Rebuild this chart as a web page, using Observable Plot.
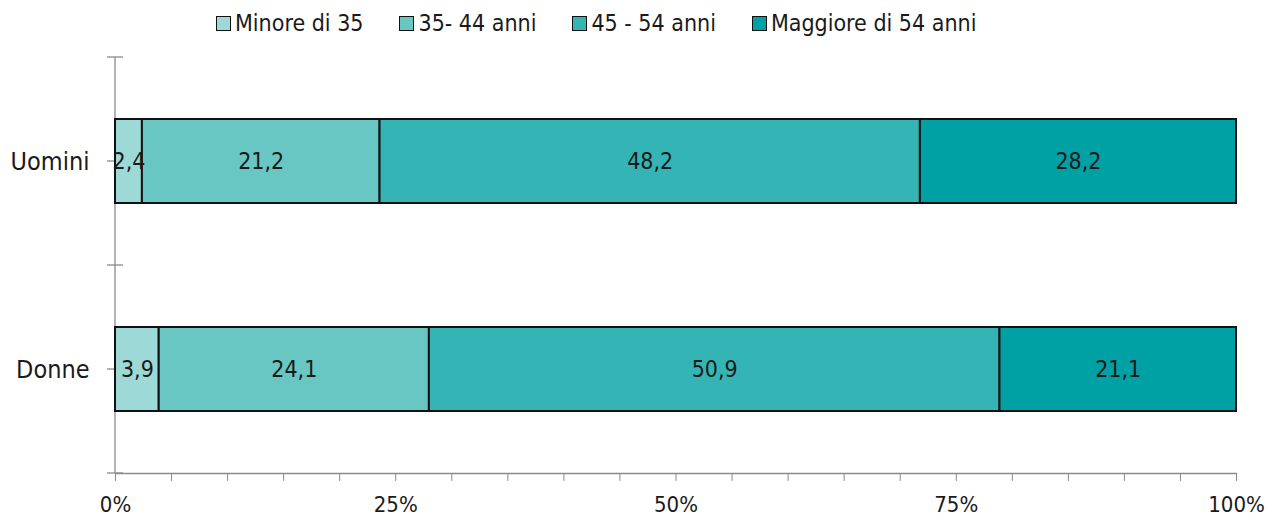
<!DOCTYPE html>
<html>
<head>
<meta charset="utf-8">
<script src="https://cdn.jsdelivr.net/npm/d3@7"></script>
<script src="https://cdn.jsdelivr.net/npm/@observablehq/plot@0.6"></script>
<style>
  html, body { margin: 0; padding: 0; background: #fff; }
  body { width: 1266px; height: 521px; position: relative; overflow: hidden;
         font-family: "Liberation Sans Narrow", "DejaVu Sans Condensed", "Open Sans", sans-serif; }
  #legend { position: absolute; left: 216px; top: 10px; display: flex; gap: 36px; font-size: 23px; color: #1a1a1a; z-index: 2; white-space: nowrap; }
  #legend .item { display: flex; align-items: center; }
  #legend .sw { width: 13px; height: 13px; border: 1.5px solid #111; margin-right: 4px; box-sizing: content-box; }
  #chart { position: absolute; left: 0; top: 0; z-index: 1; }
</style>
</head>
<body>
<div id="legend"></div>
<div id="chart"></div>
<script>
// ---- data ----
const groups = ["Uomini", "Donne"];
const ageClasses = ["Minore di 35", "35- 44 anni", "45 - 54 anni", "Maggiore di 54 anni"];
const uominiValues = [2.4, 21.2, 48.2, 28.2];
const donneValues = [3.9, 24.1, 50.9, 21.1];
const colors = ["#9dd9d6", "#68c7c2", "#35b4b6", "#00a1a4"];
const xTicks = [0, 5, 10, 15, 20, 25, 30, 35, 40, 45, 50, 55, 60, 65, 70, 75, 80, 85, 90, 95, 100];
const xTickLabels = {0: "0%", 25: "25%", 50: "50%", 75: "75%", 100: "100%"};

const rows = [];
[uominiValues, donneValues].forEach((vals, gi) => {
  vals.forEach((v, ai) => rows.push({group: groups[gi], age: ageClasses[ai], value: v}));
});

const axisColor = "#8a8a8a";
const fmt = v => v.toFixed(1).replace(".", ",");

// legend
const legend = d3.select("#legend");
ageClasses.forEach((a, i) => {
  const it = legend.append("div").attr("class", "item");
  it.append("div").attr("class", "sw").style("background", colors[i]);
  it.append("span").text(a);
});

function yAxisTicks(index, scales, values, dims) {
  const y = scales.y;
  const bw = y.bandwidth ? y.bandwidth() : 0;
  const x0 = scales.x(0);
  const centers = groups.map(g => y(g) + bw / 2);
  const bounds = [dims.marginTop, (centers[0] + centers[1]) / 2, dims.height - dims.marginBottom];
  const g = d3.create("svg:g").attr("stroke", axisColor).attr("stroke-width", 1.3);
  g.append("line").attr("x1", x0).attr("x2", x0).attr("y1", dims.marginTop).attr("y2", dims.height - dims.marginBottom);
  bounds.forEach(b => g.append("line").attr("x1", x0 - 8).attr("x2", x0 + 8).attr("y1", b).attr("y2", b));
  centers.forEach(c => g.append("line").attr("x1", x0 - 8).attr("x2", x0 + 4).attr("y1", c).attr("y2", c));
  return g.node();
}

const plot = Plot.plot({
  width: 1266,
  height: 521,
  marginLeft: 115,
  marginRight: 30,
  marginTop: 57,
  marginBottom: 48,
  style: {fontFamily: "'Liberation Sans Narrow', 'DejaVu Sans Condensed', 'Open Sans', sans-serif", background: "transparent", color: "#1a1a1a"},
  x: {domain: [0, 100]},
  y: {domain: groups, paddingInner: 0.596, paddingOuter: 0.298},
  color: {domain: ageClasses, range: colors},
  marks: [
    yAxisTicks,
    Plot.axisX({ticks: xTicks, tickSize: 8, tickPadding: 15, tickFormat: d => xTickLabels[d] ?? "", stroke: axisColor, fontSize: 22, color: "#1a1a1a", label: null}),
    Plot.frame({anchor: "bottom", stroke: axisColor, strokeWidth: 1.3}),
    Plot.axisY({tickSize: 0, tickPadding: 26, fontSize: 25, label: null}),
    Plot.barX(rows, Plot.stackX({x: "value", y: "group", z: "age", fill: "age", stroke: "#111", strokeWidth: 2})),
    Plot.text(rows, Plot.stackX({x: "value", y: "group", z: "age", text: d => fmt(d.value), fontSize: 23, fill: "#1a1a1a"}))
  ]
});
document.getElementById("chart").appendChild(plot);
</script>
</body>
</html>
